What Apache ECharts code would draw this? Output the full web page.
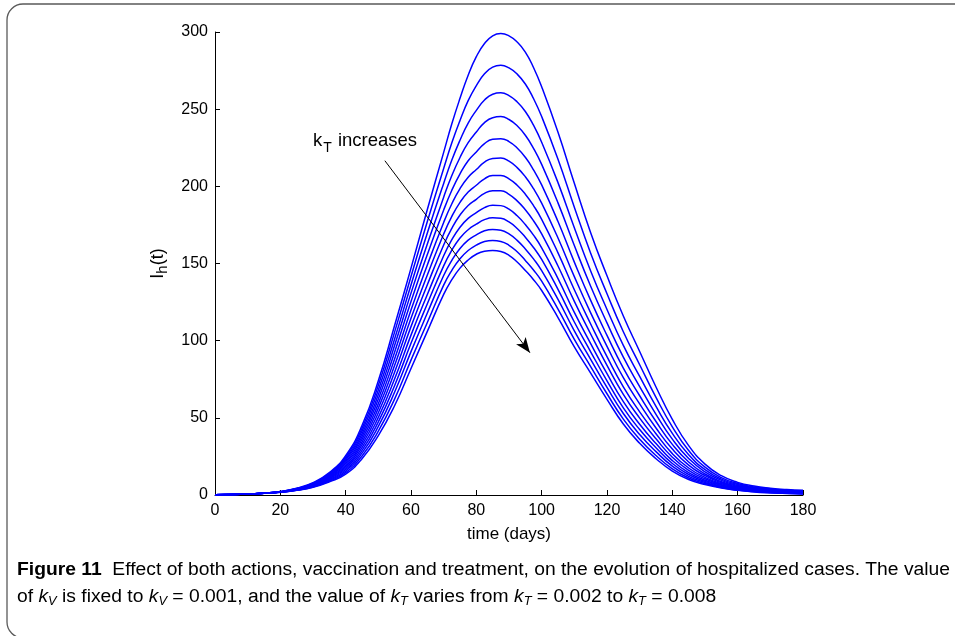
<!DOCTYPE html>
<html><head><meta charset="utf-8">
<script src="https://cdn.jsdelivr.net/npm/echarts@6/dist/echarts.min.js"></script>
<style>html,body{margin:0;padding:0;background:#fff}#c{width:955px;height:636px}</style>
</head><body><div id="c"></div>
<script>
const days = [0,5,10,15,20,25,30,35,40,45,50,55,60,65,70,72.5,75,77.5,80,82.5,85,87.5,90,92.5,95,97.5,100,105,110,115,120,125,130,135,140,145,150,155,160,165,170,175,180];
const xTicks = [0,20,40,60,80,100,120,140,160,180];
const yTicks = [0,50,100,150,200,250,300];
const kT1 = [0.2,0.3,0.6,1.2,2.2,4.4,8,14.5,25.5,45,74,110,147,185, 222,240.5,257,272,284,292.5,297.5,299,297.5,293.5,287,277,264.5, 235,202,170,142,116,93,70,49,32,20,12.5,8.2,5.8,4.4,3.5,3.0];
const kT2 = [0.2,0.3,0.6,1.2,2.2,4.2,7.6,14,24.5,43.2,71.1,105.7,141.6,177.2, 211.5,228.2,242.7,255.5,265.3,272.9,277.2,278.4,276.7,272.7,266.3,256.9,245.2, 217.5,186.5,156.7,130.4,105.8,84.4,63.2,44.2,28.8,18.1,11.3,7.4,5.2,4.0,3.1,2.7];
const kT3 = [0.2,0.3,0.6,1.2,2.1,4.1,7.3,13.5,23.5,41.4,68.1,101.3,136.1,169.8, 201.9,217,229.9,241,249.2,255.9,259.7,260.6,258.8,254.7,248.5,239.6,228.6, 202.4,173.2,145.2,120.2,96.9,76.8,57.4,39.9,26.1,16.4,10.3,6.8,4.8,3.6,2.8,2.4];
const kT4 = [0.2,0.3,0.6,1.2,2.1,4.0,7.1,13,22.5,39.6,65.1,97,130.8,162.6, 193,207,218.7,228.3,235.2,241.3,244.5,245.2,243.3,239.2,233.1,224.6,214.2, 189.3,161.6,135.3,111.5,89.3,70.3,52.3,36.2,23.6,15,9.5,6.2,4.4,3.3,2.5,2.1];
const kT5 = [0.2,0.3,0.6,1.2,2.1,3.9,6.9,12.5,21.5,37.8,62.2,92.7,125.4,155.8, 184.6,197.5,208.1,216.6,222.3,227.7,230.5,230.9,229,224.8,218.8,210.7,200.9, 177.2,150.9,126.1,103.4,82.2,64.3,47.6,32.8,21.4,13.6,8.6,5.7,4.0,3.0,2.3,1.9];
const kT6 = [0.2,0.3,0.6,1.2,2.0,3.8,6.6,12,20.5,36,59.2,88.3,119.9,149.1, 176.6,188.7,198.5,205.9,210.9,215.7,218.1,218.4,216.3,212.1,206.2,198.5,189.1, 166.5,141.5,118,96.3,76,59,43.4,29.8,19.4,12.5,7.9,5.2,3.6,2.7,2.1,1.7];
const kT7 = [0.2,0.3,0.6,1.1,2.0,3.7,6.4,11.5,19.5,34.3,56.3,84,114.5,142.5, 169.1,180.5,189.6,196.3,200.7,204.9,207,207.1,204.9,200.7,194.9,187.5,178.6, 156.9,133,110.8,89.6,70.1,53.9,39.7,26.8,17.5,11.4,7.3,4.8,3.3,2.4,1.9,1.5];
const kT8 = [0.2,0.3,0.6,1.1,2.0,3.5,6.2,11,18.5,32.5,53.3,79.7,109.1,136.2, 162,172.8,181.4,187.6,191.6,195.4,197.1,197.1,194.8,190.6,184.8,177.7,169.2, 148.4,125.5,104.3,84,65.2,49.8,36.4,24.5,16,10.5,6.7,4.4,3.1,2.2,1.7,1.3];
const kT9 = [0.2,0.3,0.6,1.1,1.9,3.4,5.9,10.5,17.5,30.7,50.3,75.3,103.6,129.9, 155,165.4,173.5,179.2,182.9,186.2,187.7,187.5,185.2,180.9,175.2,168.4,160.2, 140.2,118.3,98.1,78.6,60.5,45.8,33.3,22.3,14.5,9.6,6.2,4.1,2.8,2.0,1.5,1.2];
const kT10 = [0.2,0.3,0.6,1.1,1.9,3.3,5.7,10,16.5,28.9,47.4,71,98.3,123.9, 148.5,158.6,166.5,171.9,175.5,178.4,179.6,179.3,176.9,172.7,167,160.4,152.6, 133.2,112.1,92.8,74,56.5,42.4,30.6,20.4,13.3,8.8,5.7,3.8,2.6,1.9,1.4,1.0];
const kT11 = [0.2,0.3,0.6,1.1,1.9,3.2,5.5,9.5,15.5,27.1,44.4,66.7,92.9,117.9, 142.2,152,159.7,165.1,168.5,171.2,172.1,171.6,169.2,165,159.4,153,145.4, 126.8,106.4,87.9,69.7,52.8,39.2,28.1,18.7,12.1,8.1,5.3,3.5,2.4,1.7,1.3,0.9];
const kT12 = [0.2,0.3,0.6,1.1,1.8,3.1,5.2,9,14.5,25.3,41.4,62.3,87.4,111.8, 136,145.6,153.1,158.4,161.9,164.2,164.9,164.3,161.8,157.6,152,145.8,138.6, 120.5,100.9,83.2,65.6,49.2,36.2,25.6,17,11,7.4,4.9,3.2,2.2,1.5,1.1,0.8];
const kT13 = [0.2,0.3,0.6,1.1,1.8,3.0,5.0,8.5,13.5,23.5,38.5,58,82,106, 130,139.5,147,152.3,156,158,158.5,157.8,155.3,151,145.5,139.5,132.5, 115,96,79,62,46,33.5,23.5,15.5,10,6.8,4.5,3,2.0,1.4,1.0,0.7];
const curves = [kT1,kT2,kT3,kT4,kT5,kT6,kT7,kT8,kT9,kT10,kT11,kT12,kT13];
const arrowFrom = [52.0, 216.6];
const arrowTo = [96.4, 92.2];

const FF = '"Liberation Sans", Arial, Helvetica, sans-serif';
const chart = echarts.init(document.getElementById('c'), null, {renderer:'canvas'});

const cv = document.createElement('canvas').getContext('2d');
function tw(font, s){ cv.font = font; return cv.measureText(s).width; }
const capSize = 18;
const cap1a = 'Figure 11';
const cap1b = '  Effect of both actions, vaccination and treatment, on the evolution of hospitalized cases. The value';
const w1 = tw('bold ' + capSize + 'px ' + FF, cap1a) + tw(capSize + 'px ' + FF, cap1b);
const capScale = 933 / w1;

const series = curves.map((c, i) => ({
  type: 'line',
  data: days.map((d, j) => [d, c[j]]),
  symbol: 'none',
  smooth: 0.5,
  lineStyle: {color: '#0000ff', width: 1.5},
  silent: true,
  z: 2
}));
series[series.length - 1].markLine = {
  silent: true,
  symbol: ['none', 'arrow'],
  symbolSize: [9, 15],
  label: {show: false},
  lineStyle: {color: '#000', width: 1, type: 'solid'},
  data: [[{coord: arrowFrom}, {coord: arrowTo}]]
};

const capRich = {
  b: {fontFamily: FF, fontSize: capSize, fontWeight: 'bold', color: '#231f20'},
  n: {fontFamily: FF, fontSize: capSize, color: '#231f20'},
  i: {fontFamily: FF, fontSize: capSize, fontStyle: 'italic', color: '#231f20'},
  s: {fontFamily: FF, fontSize: 12, fontStyle: 'italic', color: '#231f20', padding: [9, 0, 0, 0]}
};

chart.setOption({
  animation: false,
  backgroundColor: '#fff',
  grid: {left: 215, top: 32, width: 588, height: 463, containLabel: false},
  xAxis: {
    type: 'value', min: xTicks[0], max: xTicks[xTicks.length - 1], interval: xTicks[1] - xTicks[0],
    axisLine: {show: true, lineStyle: {color: '#000', width: 1}},
    axisTick: {show: true, inside: true, length: 5, lineStyle: {color: '#000'}},
    axisLabel: {color: '#000', fontSize: 16, fontFamily: FF, margin: 8},
    splitLine: {show: false},
    name: 'time (days)', nameLocation: 'middle', nameGap: 31,
    nameTextStyle: {color: '#000', fontSize: 17, fontFamily: FF}
  },
  yAxis: {
    type: 'value', min: yTicks[0], max: yTicks[yTicks.length - 1], interval: yTicks[1] - yTicks[0],
    axisLine: {show: true, lineStyle: {color: '#000', width: 1}},
    axisTick: {show: true, inside: true, length: 5, lineStyle: {color: '#000'}},
    axisLabel: {color: '#000', fontSize: 16, fontFamily: FF, margin: 7},
    splitLine: {show: false},
    name: '{a|I}{s|h}{a|(t)}', nameLocation: 'middle', nameGap: 43, nameRotate: 90,
    nameTextStyle: {
      color: '#000', fontFamily: FF,
      rich: {
        a: {fontSize: 18, fontFamily: FF, color: '#000'},
        s: {fontSize: 15, fontFamily: FF, color: '#000', padding: [10, 0, 0, 0]}
      }
    }
  },
  series: series,
  graphic: [
    {type: 'rect', silent: true, z: 0,
     shape: {x: 7, y: 4, width: 980, height: 634, r: 16},
     style: {fill: 'none', stroke: '#5a5a5a', lineWidth: 1.3}},
    {type: 'text', silent: true, z: 10, x: 313, y: 141,
     style: {text: '{a|k}{s|T}{a| increases}', verticalAlign: 'middle', align: 'left',
       rich: {
         a: {fontSize: 18.5, fontFamily: FF, color: '#000'},
         s: {fontSize: 14, fontFamily: FF, color: '#000', padding: [14, 1, 0, 1]}
       }}},
    {type: 'text', silent: true, z: 10, x: 17, y: 570, scaleX: capScale,
     style: {text: '{b|' + cap1a + '}{n|' + cap1b + '}', verticalAlign: 'middle', align: 'left', rich: capRich}},
    {type: 'text', silent: true, z: 10, x: 17, y: 597, scaleX: capScale,
     style: {text: '{n|of }{i|k}{s|V}{n| is fixed to }{i|k}{s|V}{n| = 0.001, and the value of }{i|k}{s|T}{n| varies from }{i|k}{s|T}{n| = 0.002 to }{i|k}{s|T}{n| = 0.008}',
       verticalAlign: 'middle', align: 'left', rich: capRich}}
  ]
});
</script></body></html>
